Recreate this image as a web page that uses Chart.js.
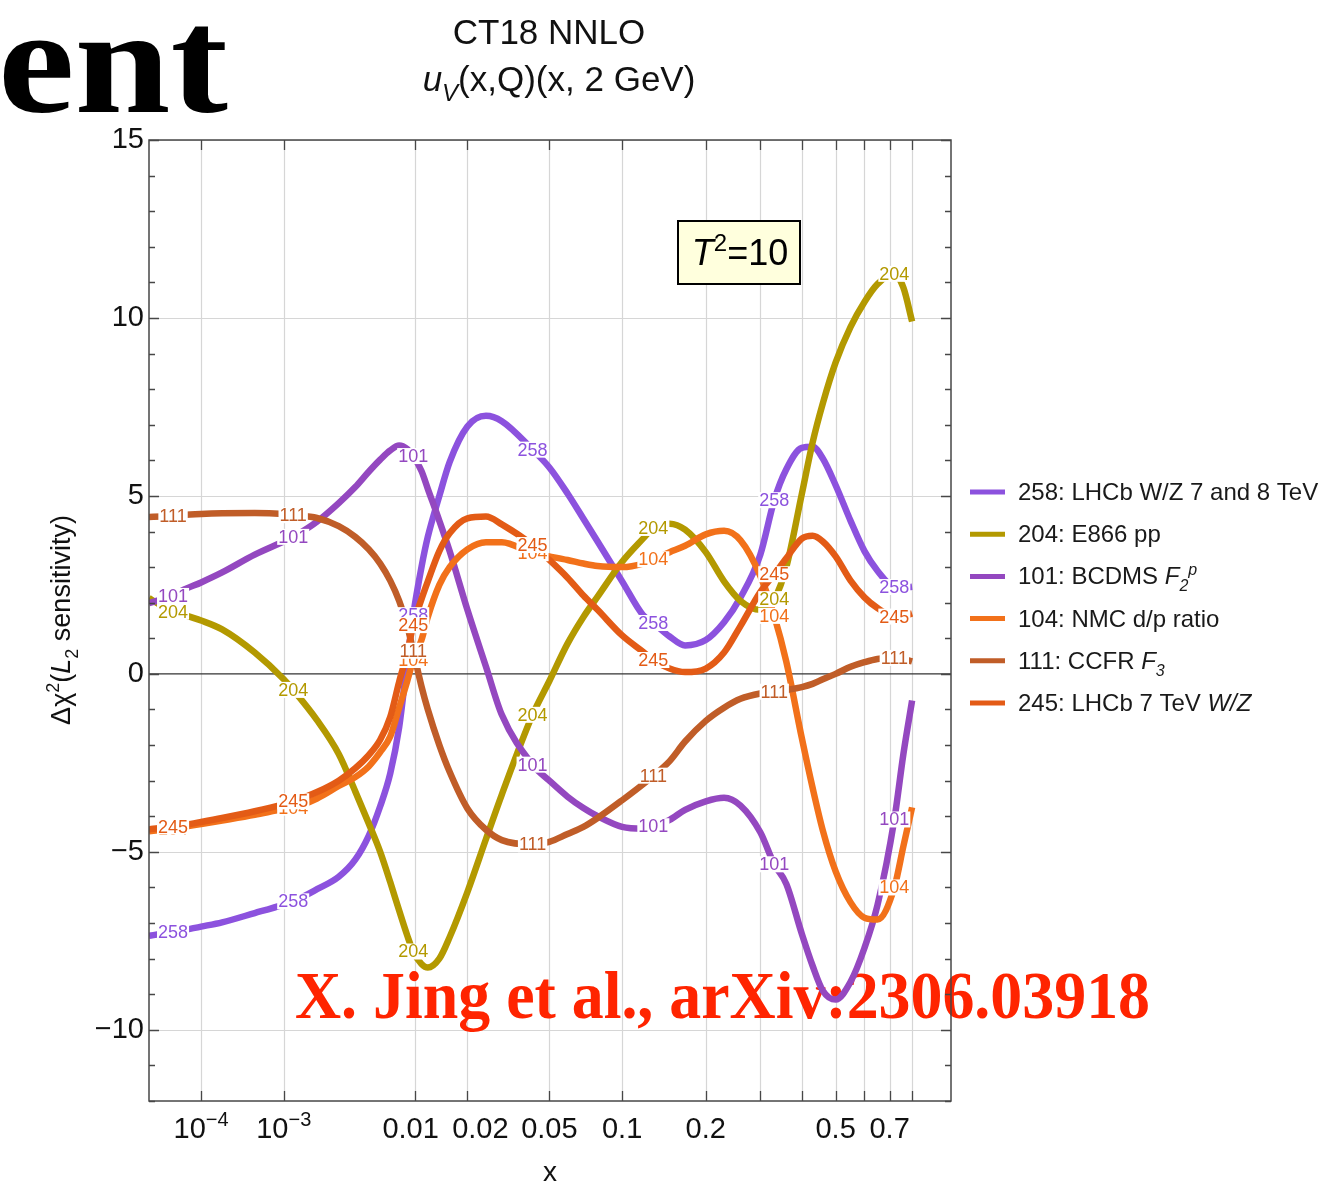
<!DOCTYPE html>
<html><head><meta charset="utf-8">
<script src="https://cdn.jsdelivr.net/npm/chart.js@4.4.1/dist/chart.umd.min.js"></script>
<style>html,body{margin:0;padding:0;background:#fff;overflow:hidden}canvas{display:block}</style>
</head><body>
<canvas id="c" width="1327" height="1188"></canvas>
<script>
// ---------------- data ----------------
const xValues = [1e-5, 2e-5, 3.3e-5, 5e-5, 1e-4, 2e-4, 5e-4, 1e-3, 1.23e-3, 2e-3, 3e-3, 4e-3, 5e-3, 6e-3, 7e-3, 8e-3, 9e-3, 9.8e-3, 0.011, 0.012, 0.014, 0.016, 0.02, 0.025, 0.03, 0.042, 0.05, 0.06, 0.07, 0.08, 0.1, 0.12, 0.131, 0.15, 0.17, 0.2, 0.23, 0.26, 0.3, 0.331, 0.36, 0.4, 0.43, 0.46, 0.5, 0.55, 0.6, 0.65, 0.72, 0.76, 0.8];
const s258 = [-7.36,-7.3,-7.26,-7.2,-7.1,-6.98,-6.72,-6.48,-6.39,-6.05,-5.7,-5.22,-4.55,-3.72,-2.8,-1.5,0.35,1.65,3.0,3.85,5.0,5.95,6.95,7.25,7.1,6.3,5.8,5.07,4.36,3.72,2.6,1.65,1.43,1.05,0.8,0.95,1.45,2.15,3.35,4.88,5.75,6.35,6.38,6.05,5.3,4.3,3.45,2.9,2.44,2.42,2.45];
const s204 = [2.13,1.9,1.75,1.67,1.5,1.25,0.6,-0.15,-0.45,-1.3,-2.25,-3.3,-4.2,-5.0,-5.85,-6.65,-7.35,-7.8,-8.15,-8.25,-8.0,-7.4,-6.13,-4.64,-3.39,-1.15,-0.2,0.85,1.6,2.17,3.15,3.8,4.1,4.22,4.05,3.42,2.6,2.05,1.8,2.1,3.0,5.05,6.5,7.6,8.75,9.75,10.45,10.95,11.24,10.85,9.9];
const s101 = [1.99,2.1,2.19,2.35,2.57,2.85,3.35,3.72,3.85,4.28,4.8,5.25,5.68,6.02,6.28,6.42,6.32,6.12,5.7,5.2,4.3,3.45,1.8,0.2,-1.15,-2.55,-3.0,-3.45,-3.77,-4.0,-4.3,-4.35,-4.28,-4.1,-3.82,-3.58,-3.48,-3.7,-4.45,-5.35,-5.9,-7.3,-8.2,-8.9,-9.15,-8.65,-7.7,-6.5,-4.09,-2.25,-0.75];
const s104 = [-4.42,-4.38,-4.35,-4.3,-4.22,-4.12,-3.96,-3.8,-3.76,-3.5,-3.15,-2.9,-2.6,-2.2,-1.76,-0.95,-0.2,0.39,0.95,1.6,2.5,3.0,3.5,3.7,3.7,3.39,3.3,3.2,3.1,3.03,3.0,3.1,3.22,3.42,3.6,3.92,4.02,3.75,2.75,1.63,0.34,-1.8,-3.2,-4.4,-5.55,-6.42,-6.85,-6.9,-6.0,-4.84,-3.75];
const s111 = [4.41,4.42,4.43,4.46,4.49,4.51,4.52,4.49,4.46,4.38,4.15,3.85,3.5,3.1,2.62,2.05,1.35,0.65,-0.35,-1.0,-2.0,-2.75,-3.78,-4.38,-4.67,-4.79,-4.72,-4.5,-4.3,-4.05,-3.55,-3.1,-2.86,-2.45,-1.9,-1.32,-0.95,-0.7,-0.55,-0.5,-0.45,-0.37,-0.28,-0.15,0.0,0.2,0.33,0.42,0.45,0.42,0.35];
const s245 = [-4.37,-4.32,-4.29,-4.25,-4.16,-4.05,-3.86,-3.66,-3.58,-3.32,-3.0,-2.65,-2.28,-1.85,-1.21,-0.22,0.6,1.37,2.1,2.6,3.45,3.95,4.37,4.42,4.2,3.62,3.2,2.7,2.2,1.8,1.08,0.62,0.39,0.15,0.05,0.15,0.6,1.35,2.3,2.8,3.25,3.8,3.88,3.72,3.3,2.62,2.15,1.85,1.61,1.62,1.7];

const seriesIds = ['258', '204', '101', '104', '111', '245'];
const seriesValues = [s258, s204, s101, s104, s111, s245];
const seriesColors = ['#8C52DE', '#B39900', '#9448C0', '#F2711A', '#C05D28', '#E35B16'];
const legendLabels = [
  [{t:'258: LHCb W/Z 7 and 8 TeV'}],
  [{t:'204: E866 pp'}],
  [{t:'101: BCDMS '}, {t:'F', i:1}, {t:'2', i:1, v:'sub'}, {t:'p', i:1, v:'sup'}],
  [{t:'104: NMC d/p ratio'}],
  [{t:'111: CCFR '}, {t:'F', i:1}, {t:'3', i:1, v:'sub'}],
  [{t:'245: LHCb 7 TeV '}, {t:'W/Z', i:1}]
];
const labelXs = [3.3e-5, 1.23e-3, 9.8e-3, 0.042, 0.131, 0.331, 0.72];
const xTickValues = [1e-4, 1e-3, 0.01, 0.02, 0.05, 0.1, 0.2, 0.3, 0.4, 0.5, 0.6, 0.7, 0.8];
const xTickLabels = ['10^−4', '10^−3', '0.01', '0.02', '0.05', '0.1', '0.2', '', '', '0.5', '', '0.7', ''];
const yTickValues = [-10, -5, 0, 5, 10, 15];
const yTickLabels = ['−10', '−5', '0', '5', '10', '15'];
const X_MIN = 1e-5, X_MAX = 1, Y_MIN = -12, Y_MAX = 15;
const X_POWER = 0.2;

// ---------------- custom power scale ----------------
class PowerScale extends Chart.LinearScale {
  getPixelForValue(value) {
    const a = Math.pow(this.min, X_POWER), b = Math.pow(this.max, X_POWER);
    return this.getPixelForDecimal((Math.pow(value, X_POWER) - a) / (b - a));
  }
  getValueForPixel(pixel) {
    const a = Math.pow(this.min, X_POWER), b = Math.pow(this.max, X_POWER);
    return Math.pow(a + this.getDecimalForPixel(pixel) * (b - a), 1 / X_POWER);
  }
}
PowerScale.id = 'power';
PowerScale.defaults = Chart.LinearScale.defaults;
Chart.register(PowerScale);

const SANS = '"Liberation Sans", Arial, Helvetica, sans-serif';
const SERIF = '"Liberation Serif", "Times New Roman", serif';

function drawRich(ctx, x, y, parts, size, family, align) {
  const fontFor = p => (p.i ? 'italic ' : '') + (p.v ? Math.round(size * 0.68) : size) + 'px ' + family;
  let total = 0;
  parts.forEach(p => { ctx.font = fontFor(p); p._w = ctx.measureText(p.t).width; total += p._w; });
  let cx = align === 'center' ? x - total / 2 : (align === 'right' ? x - total : x);
  ctx.textAlign = 'left';
  parts.forEach(p => {
    ctx.font = fontFor(p);
    const dy = p.v === 'sub' ? size * 0.28 : (p.v === 'sup' ? -size * 0.4 : 0);
    ctx.fillText(p.t, cx, y + dy);
    cx += p._w;
  });
  return total;
}
function parseTick(s) {
  if (!s.includes('^')) return [{t: s}];
  const [b, e] = s.split('^');
  return [{t: b}, {t: e, v: 'sup'}];
}

// ---------------- plugins ----------------
const backgroundPlugin = {
  id: 'bg',
  beforeDraw(chart) {
    const ctx = chart.ctx;
    ctx.save();
    ctx.fillStyle = '#fff';
    ctx.fillRect(0, 0, chart.width, chart.height);
    // cut-off slide word
    ctx.fillStyle = '#000';
    ctx.font = 'bold 150px ' + SERIF;
    const w = ctx.measureText('ent').width;
    ctx.translate(-2, 112);
    ctx.scale(230 / w, 1);
    ctx.textBaseline = 'alphabetic';
    ctx.fillText('ent', 0, 0);
    ctx.restore();
  }
};

const gridPlugin = {
  id: 'grid',
  beforeDatasetsDraw(chart) {
    const ctx = chart.ctx, xs = chart.scales.x, ys = chart.scales.y, a = chart.chartArea;
    ctx.save();
    ctx.strokeStyle = '#d6d6d6';
    ctx.lineWidth = 1.2;
    xTickValues.forEach(v => {
      const px = Math.round(xs.getPixelForValue(v)) + 0.5;
      ctx.beginPath(); ctx.moveTo(px, a.top); ctx.lineTo(px, a.bottom); ctx.stroke();
    });
    yTickValues.forEach(v => {
      if (v === 0) return;
      const py = Math.round(ys.getPixelForValue(v)) + 0.5;
      ctx.beginPath(); ctx.moveTo(a.left, py); ctx.lineTo(a.right, py); ctx.stroke();
    });
    // zero axis
    ctx.strokeStyle = '#333';
    ctx.lineWidth = 1.4;
    const p0 = ys.getPixelForValue(0);
    ctx.beginPath(); ctx.moveTo(a.left, p0); ctx.lineTo(a.right, p0); ctx.stroke();
    // watermark beneath the curves
    ctx.fillStyle = '#FF2400';
    ctx.font = 'bold 68px ' + SERIF;
    const txt = 'X. Jing et al., arXiv:2306.03918';
    const w = ctx.measureText(txt).width;
    ctx.translate(295, 1018);
    ctx.scale(855 / w, 1);
    ctx.textBaseline = 'alphabetic';
    ctx.fillText(txt, 0, 0);
    ctx.restore();
  }
};

const overlayPlugin = {
  id: 'overlay',
  afterDatasetsDraw(chart) {
    const ctx = chart.ctx, xs = chart.scales.x, ys = chart.scales.y, a = chart.chartArea;
    ctx.save();
    // curve labels
    ctx.font = '18px ' + SANS;
    ctx.textAlign = 'center';
    ctx.textBaseline = 'middle';
    chart.data.datasets.forEach((ds, i) => {
      labelXs.forEach(lx => {
        const j = xValues.indexOf(lx);
        const px = xs.getPixelForValue(lx);
        const py = ys.getPixelForValue(seriesValues[i][j]);
        const w = ctx.measureText(ds.curveId).width;
        ctx.fillStyle = '#fff';
        ctx.fillRect(px - w / 2 - 1, py - 8, w + 2, 16);
        ctx.fillStyle = ds.borderColor;
        ctx.fillText(ds.curveId, px, py + 1);
      });
    });

    // frame
    ctx.strokeStyle = '#474747';
    ctx.lineWidth = 1.5;
    ctx.strokeRect(a.left, a.top, a.right - a.left, a.bottom - a.top);
    // x ticks
    ctx.lineWidth = 1.3;
    xTickValues.forEach(v => {
      const px = Math.round(xs.getPixelForValue(v)) + 0.5;
      ctx.beginPath();
      ctx.moveTo(px, a.bottom); ctx.lineTo(px, a.bottom - 10);
      ctx.moveTo(px, a.top); ctx.lineTo(px, a.top + 10);
      ctx.stroke();
    });
    // y ticks (major every 5, minor every 1)
    for (let v = Y_MIN; v <= Y_MAX; v++) {
      const py = Math.round(ys.getPixelForValue(v)) + 0.5;
      const len = v % 5 === 0 ? 10 : 6;
      ctx.beginPath();
      ctx.moveTo(a.left, py); ctx.lineTo(a.left + len, py);
      ctx.moveTo(a.right, py); ctx.lineTo(a.right - len, py);
      ctx.stroke();
    }
    // tick labels
    ctx.fillStyle = '#111';
    ctx.textBaseline = 'middle';
    ctx.font = '29px ' + SANS;
    ctx.textAlign = 'right';
    yTickValues.forEach((v, k) => {
      ctx.fillText(yTickLabels[k], a.left - 5, ys.getPixelForValue(v));
    });
    const shift = {'0.01': -4, '0.02': 13};
    ctx.textBaseline = 'alphabetic';
    xTickValues.forEach((v, k) => {
      const s = xTickLabels[k];
      if (!s) return;
      drawRich(ctx, xs.getPixelForValue(v) + (shift[s] || 0), 1138, parseTick(s), 29, SANS, 'center');
    });
    // axis titles
    ctx.font = '28px ' + SANS;
    ctx.textAlign = 'center';
    ctx.fillText('x', (a.left + a.right) / 2, 1181);
    ctx.save();
    ctx.translate(70, 620);
    ctx.rotate(-Math.PI / 2);
    drawRich(ctx, 0, 0, [{t:'Δχ'}, {t:'2', v:'sup'}, {t:'('}, {t:'L', i:1}, {t:'2', v:'sub'}, {t:' sensitivity)'}], 27, SANS, 'center');
    ctx.restore();

    // titles
    ctx.fillStyle = '#111';
    ctx.font = '35px ' + SANS;
    ctx.textAlign = 'center';
    ctx.fillText('CT18 NNLO', 549, 44);
    drawRich(ctx, 559, 91, [{t:'u', i:1}, {t:'V', i:1, v:'sub'}, {t:'(x,Q)(x, 2 GeV)'}], 35, SANS, 'center');

    // T^2 box
    ctx.fillStyle = '#FFFFDD';
    ctx.fillRect(678, 221, 122, 63);
    ctx.strokeStyle = '#000';
    ctx.lineWidth = 2;
    ctx.strokeRect(678, 221, 122, 63);
    ctx.fillStyle = '#000';
    drawRich(ctx, 740, 265, [{t:'T', i:1}, {t:'2', v:'sup'}, {t:'=10'}], 36, SANS, 'center');

    // legend
    const ly0 = 492, dy = 42.2;
    legendLabels.forEach((parts, k) => {
      const y = ly0 + k * dy;
      ctx.strokeStyle = seriesColors[k];
      ctx.lineWidth = 5;
      ctx.beginPath(); ctx.moveTo(970, y); ctx.lineTo(1005, y); ctx.stroke();
      ctx.fillStyle = '#1a1a1a';
      drawRich(ctx, 1018, y + 8, parts, 24, SANS, 'left');
    });
    ctx.restore();
  }
};

// ---------------- chart ----------------
const datasets = seriesIds.map((id, i) => ({
  label: id,
  curveId: id,
  data: xValues.map((x, j) => ({x: x, y: seriesValues[i][j]})),
  borderColor: seriesColors[i],
  backgroundColor: seriesColors[i],
  borderWidth: 6.5,
  pointRadius: 0,
  cubicInterpolationMode: 'monotone',
  borderCapStyle: 'butt',
  borderJoinStyle: 'round',
  fill: false,
  order: -i
}));

new Chart(document.getElementById('c').getContext('2d'), {
  type: 'line',
  data: {datasets},
  options: {
    responsive: false,
    animation: false,
    devicePixelRatio: 1,
    layout: {padding: {left: 149, top: 140, right: 376, bottom: 87}},
    scales: {
      x: {type: 'power', min: X_MIN, max: X_MAX, display: false},
      y: {type: 'linear', min: Y_MIN, max: Y_MAX, display: false}
    },
    plugins: {legend: {display: false}, title: {display: false}, tooltip: {enabled: false}}
  },
  plugins: [backgroundPlugin, gridPlugin, overlayPlugin]
});
</script>
</body></html>
